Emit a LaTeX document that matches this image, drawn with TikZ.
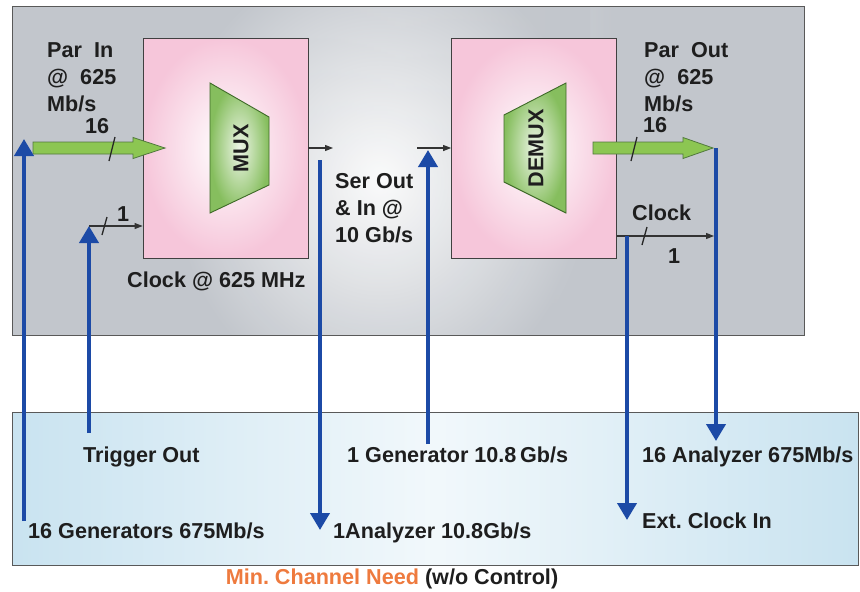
\documentclass[tikz,border=0pt]{standalone}
\usepackage{fontspec}
\setmainfont{Liberation Sans}
\usetikzlibrary{arrows.meta,positioning,fadings}
\definecolor{PanelGray}{HTML}{C2C6CC}
\definecolor{PanelBlue}{HTML}{C9E3F0}
\definecolor{BoxPink}{HTML}{F6C6DA}
\definecolor{MuxGreen}{HTML}{86BE5E}
\definecolor{MuxEdge}{HTML}{3E6A28}
\definecolor{ArrGreen}{HTML}{8CC652}
\definecolor{SigBlue}{HTML}{1C4AA6}
\definecolor{TextDark}{HTML}{1E1E1E}
\definecolor{NeedOrange}{HTML}{EE7A3E}
\newcommand{\lblfont}{\fontsize{21.6}{27}\selectfont\bfseries\frenchspacing}
\tikzset{
  pinkbox/.style={draw=black!75,line width=0.8pt,inner color=white,outer color=BoxPink,minimum width=165pt,minimum height=220pt},
  muxshape/.style={draw=MuxEdge,line width=0.9pt,inner color=MuxGreen!15,outer color=MuxGreen},
  fatarrow/.style={draw=MuxEdge!90,line width=0.8pt,fill=ArrGreen,line join=miter},
  sigarrow/.style={-{Triangle[length=17pt,width=19pt]},line width=4pt,draw=SigBlue},
  wirearrow/.style={-{Triangle[length=8pt,width=6pt]},line width=1.1pt,draw=black!80},
  busmark/.style={line width=1.3pt,draw=black!85},
  lbl/.style={font=\lblfont,text=TextDark,inner sep=0pt,align=left}
}
\begin{document}
\begin{tikzpicture}[x=1pt,y=-1pt]
\useasboundingbox (0,0) rectangle (860,592);
% panels
\fill[PanelGray] (12,6) rectangle (804,335);
\begin{scope}
  \clip (12,6) rectangle (804,335);
  \shade[left color=PanelGray,right color=PanelGray,middle color=PanelGray!45,path fading=south] (180,6) rectangle (620,335);
  \shade[inner color=white,outer color=PanelGray,opacity=0.9] (170,-50) rectangle (590,410);
\end{scope}
\draw[black!65,line width=1pt] (12,6) rectangle (804,335);
\shade[left color=PanelBlue,right color=PanelBlue,middle color=PanelBlue!25] (12,412) rectangle (858,565);
\draw[black!65,line width=1pt] (12,412) rectangle (858,565);
% mux and demux
\node[pinkbox] (mux) at (225.5,148) {};
\node[pinkbox] (demux) at (534,148) {};
\shade[muxshape] (210,83) -- (269,117) -- (269,185) -- (210,213) -- cycle;
\node[lbl,rotate=90] (muxlbl) at (241,148) {MUX};
\shade[muxshape] (504,115) -- (566,83) -- (566,213) -- (504,182) -- cycle;
\node[lbl,rotate=90] (demuxlbl) at (536,148) {DEMUX};
% parallel buses
\coordinate (parin) at (165,148);
\coordinate (parout) at (713,148);
\draw[fatarrow] (parin) -- ++(-32,-10.5) -- ++(0,4.5) -- ++(-100,0) -- ++(0,12) -- ++(100,0) -- ++(0,4.5) -- cycle;
\draw[fatarrow] (parout) -- ++(-30,-10.5) -- ++(0,4.5) -- ++(-90,0) -- ++(0,12) -- ++(90,0) -- ++(0,4.5) -- cycle;
\draw[busmark] (109,161) -- (115,137);
\draw[busmark] (631,161) -- (637,137);
\node[lbl,anchor=base west] (parinlbl) at (47,111) {Par\ \ In\\@\ \ 625\\Mb/s};
\node[lbl,anchor=base west] (parinnum) at (85,133) {16};
\node[lbl,anchor=base west] (paroutlbl) at (644,111) {Par\ \ Out\\@\ \ 625\\Mb/s};
\node[lbl,anchor=base west] (paroutnum) at (643,132) {16};
% serial and clock wires
\coordinate (serend) at (333,148);
\coordinate (serstart) at (417,148);
\draw[wirearrow] (mux.east) -- (serend);
\draw[wirearrow] (serstart) -- (demux.west);
\node[lbl,anchor=base west] (serlbl) at (335,242) {Ser Out\\\& In @\\10 Gb/s};
\coordinate (trigin) at (89,226);
\draw[wirearrow] (trigin) -- (trigin -| mux.west);
\draw[busmark] (102,235) -- (107,217);
\node[lbl,anchor=base west] (trignum) at (117,221) {1};
\node[lbl,anchor=base west] (clklbl) at (127,287) {Clock @ 625 MHz};
\coordinate (clkend) at (714,236);
\draw[wirearrow] (clkend -| demux.east) -- (clkend);
\draw[busmark] (642,245) -- (647,227);
\node[lbl,anchor=base west] (clkoutlbl) at (632,220) {Clock};
\node[lbl,anchor=base west] (clkoutnum) at (668,263) {1};
% instrument labels
\node[lbl,anchor=base west] (trigout) at (83,462) {Trigger Out};
\node[lbl,anchor=base west] (gen1) at (347,462) {1 Generator 10.8\,Gb/s};
\node[lbl,anchor=base west] (ana16) at (642,462) {16 Analyzer 675Mb/s};
\node[lbl,anchor=base west] (gen16) at (28,538) {16 Generators 675Mb/s};
\node[lbl,anchor=base west] (ana1) at (333,538) {1Analyzer 10.8Gb/s};
\node[lbl,anchor=base west] (extclk) at (642,528) {Ext. Clock In};
\node[lbl,anchor=base,text=TextDark] (need) at (392,584) {\textcolor{NeedOrange}{Min. Channel Need} (w/o Control)};
% channel connections
\draw[sigarrow] (24,521) -- (24,139);
\draw[sigarrow] (trigin |- 0,433) -- (trigin);
\draw[sigarrow] (320,160) -- (320,530);
\draw[sigarrow] (428,444) -- (428,150);
\draw[sigarrow] (clkend -| 627,0) -- (627,520);
\draw[sigarrow] (716,148) -- (716,441);
\end{tikzpicture}
\end{document}
